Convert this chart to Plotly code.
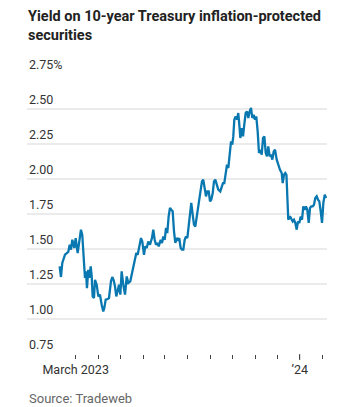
import pandas as pd
import plotly.graph_objects as go

# Days since 2023-03-01 and yields (%)
days = [-21.9, -20.1, -18.3, -14.6, -10.1, -8.2, -6.4, -4.6, -1.9, 0.0,
        2.7, 4.5, 7.2, 9.0, 10.9, 12.7, 14.1, 15.4, 17.2, 18.6,
        20.5, 21.9, 23.2, 25.0, 26.4, 28.7, 30.9, 33.2, 35.5, 37.7,
        39.1, 41.0, 43.7, 45.5, 48.2, 50.0, 51.9, 53.7, 55.5, 57.4,
        59.2, 61.0, 62.8, 65.0, 67.4, 69.7, 71.9, 74.6, 77.3, 79.2,
        81.0, 82.8, 84.7, 87.4, 89.2, 91.0, 93.3, 95.1, 97.0, 99.2,
        101.5, 104.2, 106.0, 107.9, 109.7, 111.5, 113.4, 116.1, 117.9, 119.7,
        121.6, 123.4, 125.1, 127.0, 128.8, 130.6, 132.5, 134.3, 136.1, 138.0,
        139.8, 141.5, 143.4, 145.2, 147.0, 148.9, 150.7, 152.5, 154.4, 156.1,
        157.9, 159.8, 161.6, 163.4, 165.3, 167.1, 168.9, 170.8, 172.5, 174.3,
        176.2, 178.0, 179.8, 181.7, 183.5, 185.2, 187.2, 188.9, 190.7, 192.6,
        194.8, 197.5, 199.5, 201.2, 203.0, 204.9, 206.7, 208.5, 210.4, 212.2,
        213.9, 215.3, 216.7, 218.6, 220.4, 222.1, 223.5, 224.9, 226.8, 228.6,
        230.3, 232.2, 234.0, 235.8, 237.7, 239.5, 241.3, 243.2, 244.9, 246.7,
        248.6, 250.4, 252.2, 254.1, 255.9, 257.7, 259.6, 261.3, 263.1, 265.0,
        266.8, 268.6, 270.5, 272.3, 274.6, 276.8, 279.1, 281.4, 282.8, 284.6,
        286.3, 287.9, 289.1, 290.4, 292.8, 294.5, 296.4, 298.2, 300.0, 301.9,
        303.7, 305.5, 307.4, 309.2, 310.9, 312.8, 314.6, 316.4, 318.3, 320.1,
        321.9, 323.8, 325.5, 327.3, 329.2, 331.0, 332.8, 334.7, 336.5, 338.3,
        340.2, 342.0]
yields = [1.376, 1.30, 1.40, 1.46, 1.48, 1.53, 1.495, 1.566, 1.507, 1.578,
          1.47, 1.554, 1.638, 1.60, 1.447, 1.293, 1.34, 1.22, 1.352, 1.293,
          1.376, 1.304, 1.161, 1.15, 1.28, 1.245, 1.161, 1.174, 1.102, 1.054,
          1.078, 1.138, 1.143, 1.15, 1.269, 1.30, 1.276, 1.233, 1.161, 1.197,
          1.245, 1.174, 1.34, 1.245, 1.174, 1.304, 1.257, 1.269, 1.34, 1.364,
          1.436, 1.471, 1.459, 1.543, 1.578, 1.554, 1.459, 1.519, 1.507, 1.554,
          1.53, 1.578, 1.638, 1.566, 1.53, 1.543, 1.519, 1.566, 1.543, 1.59,
          1.566, 1.65, 1.614, 1.733, 1.793, 1.78, 1.769, 1.626, 1.543, 1.578,
          1.566, 1.578, 1.507, 1.495, 1.495, 1.566, 1.59, 1.578, 1.661, 1.733,
          1.829, 1.745, 1.674, 1.661, 1.733, 1.805, 1.876, 1.947, 1.983, 1.995,
          1.947, 1.876, 1.911, 1.911, 1.84, 1.852, 1.90, 1.983, 1.995, 1.96,
          1.924, 1.911, 1.947, 1.971, 1.971, 2.03, 2.102, 2.079, 2.186, 2.269,
          2.245, 2.304, 2.424, 2.447, 2.424, 2.471, 2.388, 2.293, 2.364, 2.304,
          2.388, 2.471, 2.483, 2.436, 2.483, 2.507, 2.436, 2.459, 2.424, 2.447,
          2.34, 2.186, 2.209, 2.174, 2.293, 2.304, 2.186, 2.162, 2.233, 2.162,
          2.174, 2.138, 2.197, 2.209, 2.138, 2.10, 2.066, 2.043, 1.971, 2.03,
          2.043, 2.03, 1.805, 1.709, 1.733, 1.714, 1.697, 1.709, 1.686, 1.638,
          1.697, 1.686, 1.733, 1.709, 1.805, 1.78, 1.805, 1.78, 1.686, 1.793,
          1.805, 1.805, 1.816, 1.864, 1.876, 1.852, 1.84, 1.769, 1.686, 1.829,
          1.888, 1.864]

y_ticks = [0.75, 1.00, 1.25, 1.50, 1.75, 2.00, 2.25, 2.50, 2.75]
y_tick_labels = ["0.75", "1.00", "1.25", "1.50", "1.75", "2.00", "2.25", "2.50", "2.75%"]
month_ticks = pd.date_range("2023-03-01", "2024-02-01", freq="MS")
x_tick_labels = ["March 2023" if (d.month == 3) else ("\u201924" if d.month == 1 else "") for d in month_ticks]

base = pd.Timestamp("2023-03-01")
dates = [base + pd.Timedelta(days=d) for d in days]

TXT = "#333333"
FONT = "Roboto, sans-serif"

fig = go.Figure()
fig.add_trace(go.Scatter(x=dates, y=yields, mode="lines",
                         line=dict(color="#0a78b0", width=2.3),
                         hoverinfo="skip", showlegend=False))

for v, t in zip(y_ticks, y_tick_labels):
    fig.add_annotation(x=0, xref="paper", xanchor="left", y=v, yref="y",
                       yanchor="bottom", yshift=0, text=t, showarrow=False,
                       font=dict(family=FONT, size=12.5, color=TXT))

# longer tick for the new year
fig.add_shape(type="line", x0="2024-01-01", x1="2024-01-01", xref="x",
              y0=0, y1=-6 / 280, yref="paper",
              line=dict(color="#444444", width=1))

fig.update_layout(
    width=349, height=407,
    margin=dict(l=27, r=22, t=74, b=53),
    paper_bgcolor="white", plot_bgcolor="white",
    xaxis=dict(range=[base - pd.Timedelta(days=66.5), base + pd.Timedelta(days=343.3)],
               tickvals=list(month_ticks), ticktext=x_tick_labels,
               ticks="outside", ticklen=4, tickcolor="#444444", tickwidth=1,
               showgrid=False, showline=False, zeroline=False,
               tickfont=dict(family=FONT, size=12.5, color=TXT)),
    yaxis=dict(range=[0.75, 2.75], tickvals=y_ticks, showticklabels=False,
               showgrid=True, gridcolor="#ebebeb", gridwidth=1.6,
               zeroline=False, showline=False, ticks=""),
)

fig.add_annotation(x=0, xref="paper", xanchor="left", xshift=-1,
                   y=1, yref="paper", yanchor="top", yshift=68,
                   align="left", showarrow=False,
                   text="<b>Yield on 10-year Treasury inflation-protected<br>securities</b>",
                   font=dict(family=FONT, size=14.5, color="#222222"))

fig.add_annotation(x=0, xref="paper", xanchor="left", y=0, yref="paper",
                   yanchor="middle", yshift=-44, text="Source: Tradeweb",
                   showarrow=False,
                   font=dict(family=FONT, size=13, color="#666666"))

fig.write_html("out.html")
